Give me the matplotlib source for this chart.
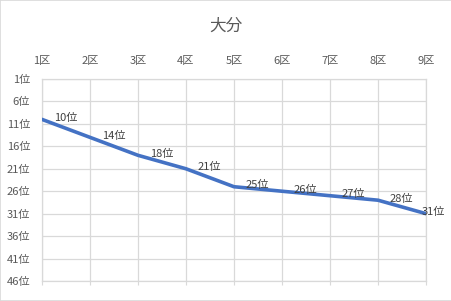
import matplotlib
matplotlib.use("Agg")
import matplotlib.pyplot as plt
from matplotlib.patches import Rectangle

plt.rcParams['font.family'] = ['Noto Sans CJK JP', 'DejaVu Sans']

title = "大分"
categories = ["1区", "2区", "3区", "4区", "5区", "6区", "7区", "8区", "9区"]
ranks = [10, 14, 18, 21, 25, 26, 27, 28, 31]
y_ticks = [1, 6, 11, 16, 21, 26, 31, 36, 41, 46]
y_tick_labels = [f"{v}位" for v in y_ticks]
point_labels = [f"{v}位" for v in ranks]

fig = plt.figure(figsize=(4.52, 3.01), dpi=100)
ax = fig.add_axes([42/452, 1-281/301, (426-42)/452, (281-79)/301])

x = list(range(len(categories)))
ax.plot(x, ranks, color="#4472C4", lw=2.6, solid_capstyle="round", zorder=3)

ax.set_xlim(0, len(categories)-1)
ax.set_ylim(46, 1)
ax.set_yticks(y_ticks)
ax.set_yticklabels(y_tick_labels)
ax.set_xticks(x)
ax.set_xticklabels(categories)
ax.xaxis.tick_top()

grid_c = "#D9D9D9"
ax.grid(True, color=grid_c, lw=0.9, zorder=0)
for s in ax.spines.values():
    s.set_color(grid_c)
    s.set_linewidth(0.9)

ax.tick_params(axis="x", which="both", top=False, bottom=True, labeltop=True,
               labelbottom=False, length=3, color=grid_c, pad=6.5,
               labelsize=8, labelcolor="#595959")
ax.tick_params(axis="y", left=False, right=False, pad=5,
               labelsize=8, labelcolor="#595959")

n = len(ranks)
for i, (xi, yi, lab) in enumerate(zip(x, ranks, point_labels)):
    dx = 8.6 if i < n-1 else -3
    ax.annotate(lab, (xi, yi), xytext=(dx, 1), textcoords="offset points",
                ha="left", va="center", fontsize=8, color="#404040",
                zorder=4, annotation_clip=False)

fig.text(0.5, 1-26/301, title, ha="center", va="center", fontsize=12,
         color="#595959")

fig.patches.append(Rectangle((0, 0), 1, 1, transform=fig.transFigure,
                             fill=False, edgecolor="#D9D9D9", lw=1.2))

fig.savefig("out.png", dpi=100)
